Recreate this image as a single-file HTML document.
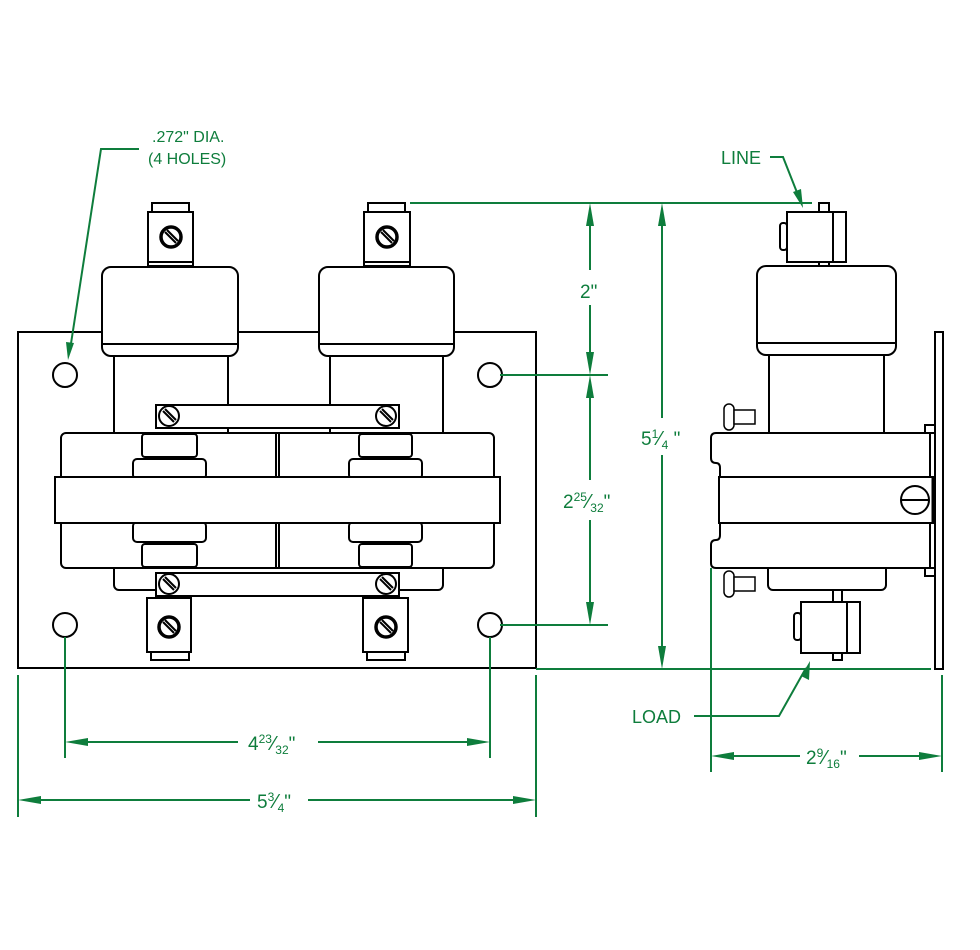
<!DOCTYPE html>
<html><head><meta charset="utf-8"><style>
html,body{margin:0;padding:0;background:#fff}
svg{display:block}
text{font-family:"Liberation Sans",sans-serif;fill:#0e7d3c}
</style></head><body>
<svg width="980" height="950" viewBox="0 0 980 950" xmlns="http://www.w3.org/2000/svg">
<defs>
<g id="scr"><circle r="10" fill="#fff" stroke="#000" stroke-width="2"/><line x1="-6" y1="-5" x2="5" y2="6" stroke="#000" stroke-width="2"/><line x1="-4" y1="-7" x2="7" y2="4" stroke="#000" stroke-width="2"/></g>
<g id="scrb"><circle r="10" fill="#fff" stroke="#000" stroke-width="3.5"/><line x1="-6" y1="-5" x2="5" y2="6" stroke="#000" stroke-width="2"/><line x1="-4" y1="-7" x2="7" y2="4" stroke="#000" stroke-width="2"/></g>
</defs>
<g fill="#fff" stroke="#000" stroke-width="2">
<rect x="18" y="332" width="518" height="336"/>
<circle cx="65" cy="375" r="12"/><circle cx="490" cy="375" r="12"/>
<circle cx="65" cy="625" r="12"/><circle cx="490" cy="625" r="12"/>
<rect x="152" y="203" width="37" height="9"/><rect x="148" y="212" width="45" height="54"/><line x1="148" y1="262" x2="193" y2="262"/>
<rect x="368" y="203" width="37" height="9"/><rect x="364" y="212" width="46" height="54"/><line x1="364" y1="262" x2="410" y2="262"/>
<rect x="114" y="350" width="114" height="85"/><rect x="330" y="350" width="113" height="85"/>
<rect x="102" y="267" width="136" height="89" rx="9"/><line x1="103" y1="344" x2="237" y2="344"/>
<rect x="319" y="267" width="135" height="89" rx="9"/><line x1="320" y1="344" x2="453" y2="344"/>
<rect x="114" y="560" width="329" height="30" rx="5"/>
<rect x="61" y="433" width="433" height="135" rx="5"/>
<line x1="276" y1="433" x2="276" y2="568"/><line x1="279" y1="433" x2="279" y2="568"/>
<rect x="142" y="434" width="55" height="23" rx="3"/><rect x="133" y="459" width="73" height="20" rx="4"/>
<rect x="133" y="522" width="73" height="20" rx="4"/><rect x="142" y="544" width="55" height="23" rx="3"/>
<rect x="359" y="434" width="53" height="23" rx="3"/><rect x="349" y="459" width="73" height="20" rx="4"/>
<rect x="349" y="522" width="73" height="20" rx="4"/><rect x="359" y="544" width="53" height="23" rx="3"/>
<rect x="55" y="477" width="445" height="46"/>
<rect x="156" y="405" width="243" height="23"/><rect x="156" y="573" width="243" height="23"/>
<rect x="147" y="598" width="44" height="54"/><rect x="151" y="652" width="38" height="8"/>
<rect x="363" y="598" width="45" height="54"/><rect x="367" y="652" width="38" height="8"/>
</g>
<use href="#scr" x="169" y="416"/><use href="#scr" x="386" y="416"/>
<use href="#scr" x="169" y="584"/><use href="#scr" x="386" y="584"/>
<use href="#scrb" x="171" y="237"/><use href="#scrb" x="387" y="237"/>
<use href="#scrb" x="169" y="627"/><use href="#scrb" x="386" y="627"/>

<g fill="#fff" stroke="#000" stroke-width="2">
<rect x="935" y="332" width="8" height="337"/>
<rect x="925" y="425" width="10" height="8"/><rect x="925" y="568" width="10" height="8"/>
<rect x="819" y="203" width="10" height="9"/><rect x="819" y="262" width="10" height="5"/>
<rect x="787" y="212" width="59" height="50"/><line x1="833" y1="212" x2="833" y2="262"/>
<rect x="780" y="223" width="7" height="27" rx="3"/>
<rect x="769" y="350" width="115" height="85"/>
<rect x="757" y="266" width="139" height="89" rx="9"/><line x1="758" y1="343" x2="895" y2="343"/>
<rect x="768" y="560" width="118" height="30" rx="5"/>
<path d="M716,433 H930 V568 H716 Q711,568 711,563 V545 Q711,540 716,540 Q720,540 720,535 V468 Q720,463 716,463 Q711,463 711,458 V438 Q711,433 716,433 Z"/>
<rect x="719" y="477" width="216" height="46"/><line x1="933" y1="477" x2="933" y2="523" stroke-width="3"/>
<circle cx="915" cy="500" r="14"/><line x1="901" y1="500" x2="929" y2="500"/>
<rect x="833" y="590" width="9" height="12"/><rect x="833" y="653" width="9" height="7"/>
<rect x="801" y="602" width="59" height="51"/><line x1="847" y1="602" x2="847" y2="653"/>
<rect x="794" y="613" width="7" height="27" rx="3"/>
<g stroke-width="1.5"><rect x="724" y="404" width="10" height="26" rx="5"/><rect x="734" y="410" width="21" height="14"/>
<rect x="724" y="571" width="10" height="26" rx="5"/><rect x="734" y="577" width="21" height="14"/></g>
</g>

<g stroke="#0e7d3c" stroke-width="2" fill="none">
<polyline points="139,149 101,149 70,350"/>
<polyline points="770,157 783,157 798,195"/>
<line x1="410" y1="203" x2="812" y2="203"/>
<line x1="500" y1="375" x2="608" y2="375"/><line x1="500" y1="625" x2="608" y2="625"/>
<line x1="590" y1="210" x2="590" y2="270"/><line x1="590" y1="305" x2="590" y2="368"/>
<line x1="590" y1="382" x2="590" y2="480"/><line x1="590" y1="520" x2="590" y2="618"/>
<line x1="662" y1="210" x2="662" y2="418"/><line x1="662" y1="455" x2="662" y2="662"/>
<line x1="536" y1="669" x2="931" y2="669"/>
<polyline points="694,716 779,716 806,668"/>
<line x1="711" y1="568" x2="711" y2="772"/><line x1="942" y1="675" x2="942" y2="772"/>
<line x1="718" y1="756" x2="800" y2="756"/><line x1="859" y1="756" x2="935" y2="756"/>
<line x1="65" y1="637" x2="65" y2="758"/><line x1="490" y1="637" x2="490" y2="758"/>
<line x1="18" y1="675" x2="18" y2="817"/><line x1="536" y1="675" x2="536" y2="817"/>
<line x1="72" y1="742" x2="238" y2="742"/><line x1="318" y1="742" x2="483" y2="742"/>
<line x1="25" y1="800" x2="250" y2="800"/><line x1="308" y1="800" x2="529" y2="800"/>
</g>
<g fill="#0e7d3c">
<polygon points="68,360 66,342 74,343"/>
<polygon points="803,208 793,192 801,189"/>
<polygon points="810,661 801,676 809,680"/>
<polygon points="590,375 586,352 594,352"/><polygon points="590,375 586,398 594,398"/>
<polygon points="590,203 586,226 594,226"/><polygon points="590,625 586,602 594,602"/>
<polygon points="662,203 658,226 666,226"/><polygon points="662,669 658,646 666,646"/>
<polygon points="711,756 734,752 734,760"/><polygon points="942,756 919,752 919,760"/>
<polygon points="65,742 88,738 88,746"/><polygon points="490,742 467,738 467,746"/>
<polygon points="18,800 41,796 41,804"/><polygon points="536,800 513,796 513,804"/>
</g>
<g font-size="19">
<text x="152" y="142" font-size="16">.272" DIA.</text>
<text x="148" y="164" font-size="16">(4 HOLES)</text>
<text x="721" y="164" font-size="18">LINE</text>
<text x="632" y="723" font-size="18">LOAD</text>
<text x="580" y="298">2"</text>
<text x="641" y="445">5<tspan font-size="12" dy="-7">1</tspan><tspan font-size="20" dy="7">⁄</tspan><tspan font-size="12" dy="4">4</tspan><tspan dy="-4"> "</tspan></text>
<text x="563" y="508">2<tspan font-size="12" dy="-7">25</tspan><tspan font-size="20" dy="7">⁄</tspan><tspan font-size="12" dy="4">32</tspan><tspan dy="-4">"</tspan></text>
<text x="248" y="750">4<tspan font-size="12" dy="-7">23</tspan><tspan font-size="20" dy="7">⁄</tspan><tspan font-size="12" dy="4">32</tspan><tspan dy="-4">"</tspan></text>
<text x="257" y="808">5<tspan font-size="12" dy="-7">3</tspan><tspan font-size="20" dy="7">⁄</tspan><tspan font-size="12" dy="4">4</tspan><tspan dy="-4">"</tspan></text>
<text x="806" y="764">2<tspan font-size="12" dy="-7">9</tspan><tspan font-size="20" dy="7">⁄</tspan><tspan font-size="12" dy="4">16</tspan><tspan dy="-4">"</tspan></text>
</g>
</svg>
</body></html>
